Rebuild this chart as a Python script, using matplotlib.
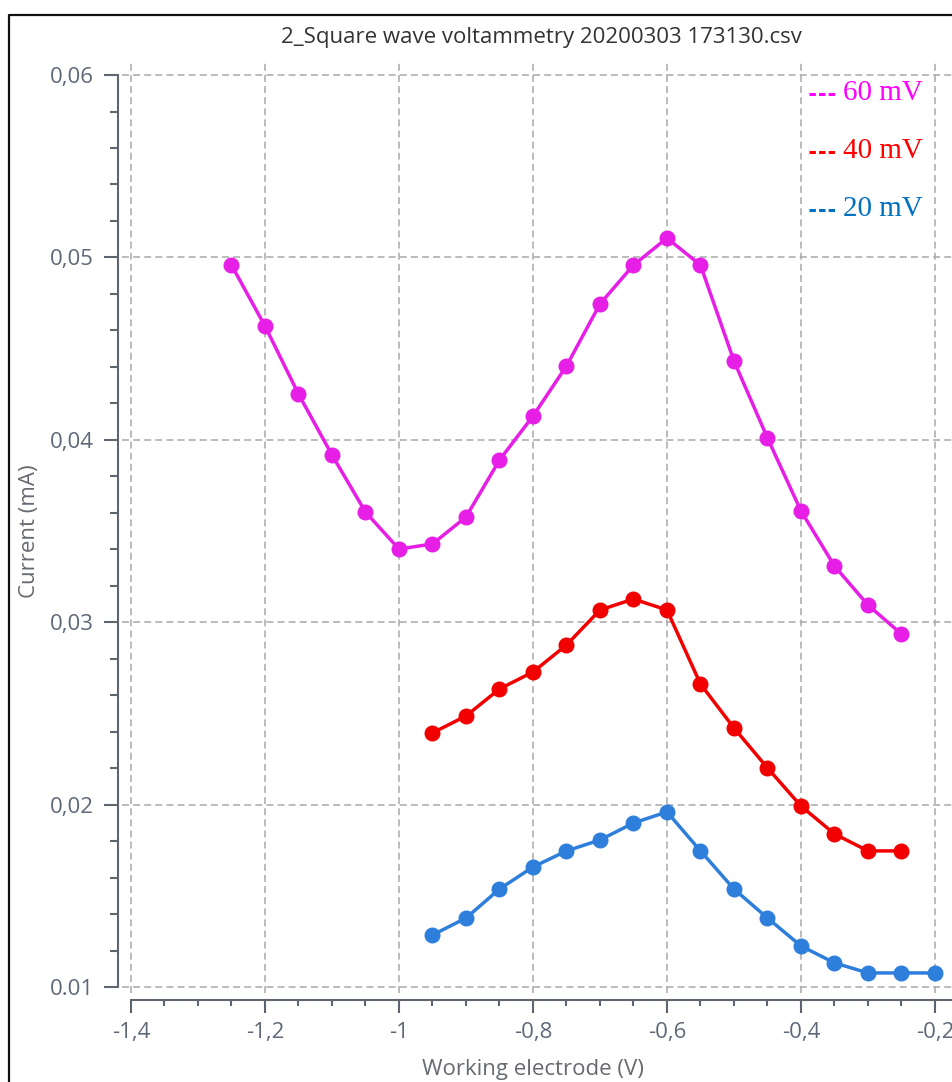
import matplotlib
matplotlib.use("Agg")
import matplotlib.pyplot as plt
from matplotlib.ticker import MultipleLocator, FixedLocator, FixedFormatter
from matplotlib.lines import Line2D

plt.rcParams['lines.scale_dashes'] = False

# ---- data ----
x_60 = [-1.25, -1.20, -1.15, -1.10, -1.05, -1.00, -0.95, -0.90, -0.85, -0.80, -0.75,
        -0.70, -0.65, -0.60, -0.55, -0.50, -0.45, -0.40, -0.35, -0.30, -0.25]
y_60 = [0.04958, 0.04624, 0.04251, 0.03917, 0.03604, 0.03401, 0.03429, 0.03577, 0.03889,
        0.04130, 0.04405, 0.04745, 0.04958, 0.05106, 0.04958, 0.04432, 0.04010, 0.03610,
        0.03308, 0.03094, 0.02935]

x_40 = [-0.95, -0.90, -0.85, -0.80, -0.75, -0.70, -0.65, -0.60, -0.55, -0.50, -0.45,
        -0.40, -0.35, -0.30, -0.25]
y_40 = [0.02393, 0.02486, 0.02634, 0.02727, 0.02875, 0.03067, 0.03127, 0.03067, 0.02661,
        0.02420, 0.02201, 0.01992, 0.01839, 0.01746, 0.01746]

x_20 = [-0.95, -0.90, -0.85, -0.80, -0.75, -0.70, -0.65, -0.60, -0.55, -0.50, -0.45,
        -0.40, -0.35, -0.30, -0.25, -0.20]
y_20 = [0.01285, 0.01378, 0.01537, 0.01658, 0.01746, 0.01806, 0.01899, 0.01960, 0.01746,
        0.01537, 0.01378, 0.01225, 0.01132, 0.01077, 0.01077, 0.01077]

x_ticks = [-1.4, -1.2, -1.0, -0.8, -0.6, -0.4, -0.2]
x_tick_labels = ['-1,4', '-1,2', '-1', '-0,8', '-0,6', '-0,4', '-0,2']
y_ticks = [0.01, 0.02, 0.03, 0.04, 0.05, 0.06]
y_tick_labels = ['0.01', '0,02', '0,03', '0,04', '0,05', '0,06']

legend_names = ['60 mV', '40 mV', '20 mV']

title = '2_Square wave voltammetry 20200303 173130.csv'
x_label = 'Working electrode (V)'
y_label = 'Current (mA)'

# ---- style ----
W, H = 952, 1082
DPI = 100
c_60 = '#e61ee6'
c_40 = '#f20000'
c_20 = '#2e7fdc'
leg_colors = ['#ff00ff', '#ff0000', '#0070c0']
spine_c = '#5f6670'
tick_c = '#5e6878'
grid_c = '#a8a8a8'
sans = ['Open Sans', 'DejaVu Sans']
serif = ['Liberation Serif', 'DejaVu Serif']

fig = plt.figure(figsize=(W / DPI, H / DPI), dpi=DPI)

def fx(px):
    return px / W

def fy(py):
    return 1 - py / H

ax_l, ax_r, ax_t, ax_b = 122, 952, 63, 993
ax = fig.add_axes([fx(ax_l), fy(ax_b), fx(ax_r) - fx(ax_l), fy(ax_t) - fy(ax_b)])
ax.set_facecolor('none')

ax.set_xlim(-1.4134, -0.1746)
ax.set_ylim(0.00967, 0.06066)

for xs, ys, c in [(x_60, y_60, c_60), (x_40, y_40, c_40), (x_20, y_20, c_20)]:
    ax.plot(xs, ys, color=c, lw=2.5, marker='o', ms=10.5, zorder=3)

ax.xaxis.set_major_locator(FixedLocator(x_ticks))
ax.xaxis.set_major_formatter(FixedFormatter(x_tick_labels))
ax.yaxis.set_major_locator(FixedLocator(y_ticks))
ax.yaxis.set_major_formatter(FixedFormatter(y_tick_labels))
ax.xaxis.set_minor_locator(MultipleLocator(0.05))
ax.yaxis.set_minor_locator(MultipleLocator(0.002))

ax.grid(True, which='major', color=grid_c, lw=1.1, linestyle=(0, (5, 3)))

for s in ['top', 'right']:
    ax.spines[s].set_visible(False)
ax.spines['left'].set_position(('outward', 3))
ax.spines['bottom'].set_position(('outward', 5))
ax.spines['left'].set_bounds(0.01, 0.06)
ax.spines['bottom'].set_bounds(-1.4, -0.1746)
for s in ['left', 'bottom']:
    ax.spines[s].set_color(spine_c)
    ax.spines[s].set_linewidth(1.5)

ax.tick_params(axis='both', which='both', color=spine_c, width=1.5, direction='out')
ax.tick_params(axis='y', which='major', length=10, pad=7)
ax.tick_params(axis='y', which='minor', length=5.5)
ax.tick_params(axis='x', which='major', length=9, pad=7)
ax.tick_params(axis='x', which='minor', length=4.5)
for lab in ax.get_xticklabels() + ax.get_yticklabels():
    lab.set_family(sans)
    lab.set_fontsize(16)
    lab.set_color(tick_c)

# titles / labels
fig.text(fx(541), fy(38), title, ha='center', va='center', family=sans,
         fontsize=16, color='#333333')
fig.text(fx(533), fy(1069), x_label, ha='center', va='center', family=sans,
         fontsize=16, color='#666a70')
fig.text(fx(30), fy(531), y_label, ha='center', va='center', rotation=90,
         family=sans, fontsize=16, color='#666a70')

# legend-like entries: short thick dashed handle + serif label
for name, c, py in zip(legend_names, leg_colors, [93, 151, 209]):
    fig.add_artist(Line2D([fx(809), fx(835)], [fy(py + 1), fy(py + 1)], color=c,
                          lw=2.2, linestyle=(0, (4.6, 2.3)),
                          solid_capstyle='butt', dash_capstyle='butt',
                          transform=fig.transFigure))
    fig.text(fx(843), fy(py), name, ha='left', va='center', family=serif,
             fontsize=21, color=c)

# outer frame (left and top edges)
fig.add_artist(Line2D([fx(9), fx(9), fx(952)], [0, fy(15), fy(15)],
                      color='#111111', lw=1.6, transform=fig.transFigure))

fig.savefig('out.png', dpi=DPI)
